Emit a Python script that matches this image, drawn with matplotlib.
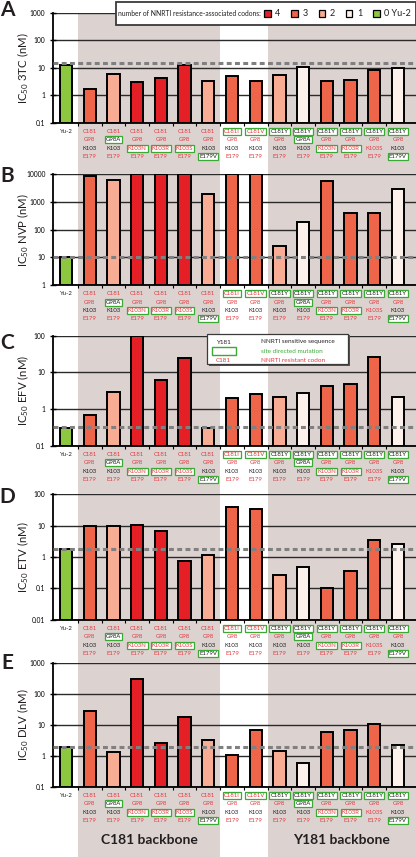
import numpy as np
import matplotlib.pyplot as plt
import matplotlib.ticker as ticker
from matplotlib.patches import Rectangle
from matplotlib.transforms import blended_transform_factory

plt.rcParams['font.family'] = ['Lato', 'DejaVu Sans']
plt.rcParams['mathtext.default'] = 'regular'

# ---- data ----
codon_181 = ["", "C181", "C181", "C181", "C181", "C181", "C181", "C181I", "C181V",
             "C181Y", "C181Y", "C181Y", "C181Y", "C181Y", "C181Y"]
codon_98 = ["", "G98", "G98A", "G98", "G98", "G98", "G98", "G98", "G98",
            "G98", "G98A", "G98", "G98", "G98", "G98"]
codon_103 = ["", "K103", "K103", "K103N", "K103R", "K103S", "K103", "K103", "K103",
             "K103", "K103", "K103N", "K103R", "K103S", "K103"]
codon_179 = ["", "E179", "E179", "E179", "E179", "E179", "E179V", "E179", "E179",
             "E179", "E179", "E179", "E179", "E179", "E179V"]
resistant_codons = ["C181", "C181I", "C181V", "G98", "K103N", "K103R", "K103S", "E179"]
# (column, row) of site directed mutations (green boxes)
site_directed = [(2, 1), (3, 2), (4, 2), (5, 2), (6, 3), (7, 0), (8, 0), (9, 0),
                 (10, 0), (10, 1), (11, 0), (11, 2), (12, 0), (12, 2), (13, 0),
                 (14, 0), (14, 3)]
n_codons = [0, 3, 2, 4, 4, 4, 2, 3, 3, 2, 1, 3, 3, 3, 1]

ic50_3tc = [12.5, 1.65, 6.0, 3.0, 4.35, 12.5, 3.2, 5.0, 3.2, 5.6, 10.6, 3.4, 3.7, 8.0, 9.7]
ic50_nvp = [10, 8700, 6200, 10000, 10000, 10000, 1900, 10000, 10000, 26.5, 195, 5600, 390, 410, 3000]
ic50_efv = [0.31, 0.69, 2.9, 100, 6.2, 25, 0.30, 2.0, 2.5, 2.1, 2.7, 4.2, 4.8, 25.6, 2.1]
ic50_etv = [1.8, 9.8, 9.8, 10.2, 6.9, 0.76, 1.19, 39, 33, 0.27, 0.49, 0.1, 0.36, 3.6, 2.68]
ic50_dlv = [1.86, 27.6, 1.28, 297, 2.5, 17.7, 3.1, 1.05, 6.9, 1.38, 0.58, 5.9, 6.9, 10.8, 2.2]

panels = [
    ("A", "3TC", ic50_3tc, 14.5, (0.1, 1000)),
    ("B", "NVP", ic50_nvp, 10, (1, 10000)),
    ("C", "EFV", ic50_efv, 0.32, (0.1, 100)),
    ("D", "ETV", ic50_etv, 1.85, (0.01, 100)),
    ("E", "DLV", ic50_dlv, 1.86, (0.1, 1000)),
]

# colours
codon_colors = {4: "#e41f26", 3: "#ef654a", 2: "#f7ac93", 1: "#fdf1eb", 0: "#8dc63f"}
RED = "#e2393f"
BLACK = "#231f20"
GREEN = "#3aaa35"
SHADE = "#dcd3d1"

W, H = 416, 857
fig = plt.figure(figsize=(W / 100, H / 100), dpi=100)

def fx(px):
    return px / W

def fy(py):
    return 1 - py / H

# axes rectangles in pixels (top, bottom)
ax_rows = [(12.7, 122.7), (174.3, 285), (335.7, 445.7), (494.3, 619.7), (662.7, 786.7)]
letter_y = [10, 176, 343, 497, 663]
x = np.arange(len(n_codons))
bar_colors = [codon_colors[n] for n in n_codons]

axes = []
for k, (letter, drug, vals, ref, ylim) in enumerate(panels):
    top, bot = ax_rows[k]
    ax = fig.add_axes([fx(53), fy(bot), fx(363), (bot - top) / H])
    ax.set_facecolor("none")
    ax.set_yscale("log")
    ax.set_ylim(*ylim)
    ax.set_xlim(-0.55, 14.76)
    ax.set_axisbelow(True)
    ax.yaxis.grid(True, which="major", color="#2a2a2a", lw=1.0)
    ax.bar(x, np.array(vals) - ylim[0], bottom=ylim[0], width=0.52,
           color=bar_colors, edgecolor="black", linewidth=1.4, zorder=3)
    ax.axhline(ref, color="#808080", lw=2.2, ls=(0, (1.6, 1.1)), zorder=4)

    for s in ["top", "right"]:
        ax.spines[s].set_visible(False)
    ax.spines["left"].set_linewidth(1.3)
    ax.spines["bottom"].set_linewidth(1.3)
    ax.yaxis.set_major_locator(ticker.LogLocator(base=10, numticks=10))
    ax.yaxis.set_minor_locator(ticker.NullLocator())
    ax.yaxis.set_major_formatter(ticker.FuncFormatter(lambda v, p: f"{v:g}"))
    ax.tick_params(axis="y", direction="inout", length=5, width=1, labelsize=4.8, pad=3)
    ax.set_xticks([])
    ax.set_xticks(np.arange(0.5, 14.5, 1), minor=True)
    ax.tick_params(axis="x", which="minor", direction="out", length=2.5, width=0.8)

    ax.text(-0.082, 0.5, "IC$_{50}$ " + drug + " (nM)", transform=ax.transAxes,
            rotation=90, ha="center", va="center", fontsize=8.2, color=BLACK)
    fig.text(fx(7), fy(letter_y[k]), letter, fontsize=15, fontweight="bold",
             ha="center", va="center", color=BLACK)

    # mutation labels under the bars
    xt = ax.get_xaxis_transform()
    ax.annotate("Yu-2", xy=(0, 0), xycoords=xt, xytext=(0, -6.3),
                textcoords="offset points", ha="center", va="center",
                fontsize=4.3, color=BLACK)
    for col in range(1, len(n_codons)):
        cells = [codon_181[col], codon_98[col], codon_103[col], codon_179[col]]
        for r, txt in enumerate(cells):
            c = RED if txt in resistant_codons else BLACK
            bbox = None
            if (col, r) in site_directed:
                bbox = dict(boxstyle="square,pad=0.18", fc="white", ec=GREEN, lw=0.9)
            ax.annotate(txt, xy=(col, 0), xycoords=xt, xytext=(0, -6.3 - 6.0 * r),
                        textcoords="offset points", ha="center", va="center",
                        fontsize=4.3, color=c, bbox=bbox)
    axes.append(ax)

# grey backbone shading across the whole figure
tr = blended_transform_factory(axes[0].transData, fig.transFigure)
for x0, x1 in [(0.5, 6.5), (8.5, 14.76)]:
    fig.patches.append(Rectangle((x0, 0), x1 - x0, fy(13), transform=tr,
                                 facecolor=SHADE, edgecolor="none", zorder=-10))

tr_e = blended_transform_factory(axes[-1].transData, fig.transFigure)
fig.text(3.5, fy(840), "C181 backbone", transform=tr_e, ha="center", va="center",
         fontsize=10, fontweight="bold", color=BLACK)
fig.text(11.63, fy(840), "Y181 backbone", transform=tr_e, ha="center", va="center",
         fontsize=10, fontweight="bold", color=BLACK)

# legend for panel A
fig.patches.append(Rectangle((fx(116), fy(25)), fx(300), (23) / H, transform=fig.transFigure,
                             facecolor="white", edgecolor="#3a3a3a", lw=1.3, zorder=5))
fig.text(fx(118), fy(13.5), "number of NNRTI resistance-associated codons:",
         fontsize=4.9, ha="left", va="center", color=BLACK, zorder=6)
leg_items = [(4, "4"), (3, "3"), (2, "2"), (1, "1"), (0, "0 Yu-2")]
for i, (n, lab) in enumerate(leg_items):
    sx = 264 + i * 27.3
    fig.patches.append(Rectangle((fx(sx), fy(17)), fx(6.5), 6.5 / H, transform=fig.transFigure,
                                 facecolor=codon_colors[n], edgecolor="black", lw=0.9, zorder=6))
    fig.text(fx(sx + 11), fy(13.5), lab, fontsize=6.5, ha="left", va="center",
             color=BLACK, zorder=6)

# legend for panel C
fig.patches.append(Rectangle((fx(209), fy(366)), fx(141), 31 / H, transform=fig.transFigure,
                             facecolor="#555555", edgecolor="none", zorder=5))
fig.patches.append(Rectangle((fx(207), fy(364)), fx(141), 30 / H, transform=fig.transFigure,
                             facecolor="white", edgecolor="#3a3a3a", lw=0.9, zorder=6))
fig.text(fx(223), fy(342), "Y181", fontsize=4.6, ha="center", va="center", color=BLACK, zorder=7)
fig.patches.append(Rectangle((fx(212), fy(355.3)), fx(24), 8 / H, transform=fig.transFigure,
                             facecolor="white", edgecolor=GREEN, lw=1.0, zorder=7))
fig.text(fx(223), fy(360.3), "C181", fontsize=4.6, ha="center", va="center", color=RED, zorder=7)
fig.text(fx(261), fy(342), "NNRTI sensitive sequence", fontsize=4.6, ha="left", va="center",
         color=BLACK, zorder=7)
fig.text(fx(261), fy(351.3), "site directed mutation", fontsize=4.6, ha="left", va="center",
         color=GREEN, zorder=7)
fig.text(fx(261), fy(360.3), "NNRTI resistant codon", fontsize=4.6, ha="left", va="center",
         color=RED, zorder=7)

fig.savefig("out.png", dpi=100)
